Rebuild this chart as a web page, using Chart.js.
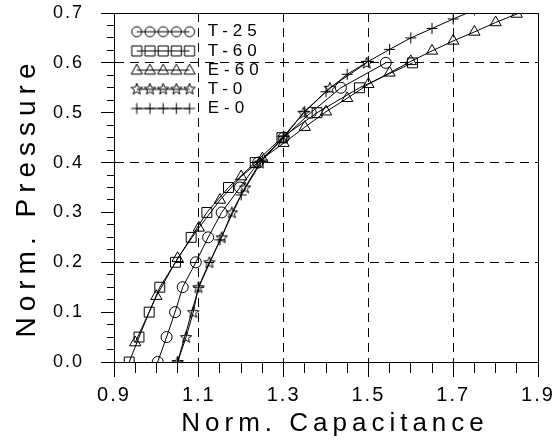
<!DOCTYPE html>
<html>
<head>
<meta charset="utf-8">
<script src="https://cdn.jsdelivr.net/npm/chart.js@4.4.0/dist/chart.umd.min.js"></script>
<style>
  body { margin: 0; background: #fff; }
  canvas { display: block; }
</style>
</head>
<body>
<canvas id="chart" width="555" height="440"></canvas>
<script>
// series
const seriesNames = ["T-25", "T-60", "E-60", "T-0", "E-0"];
const pressureT = [0.00, 0.05, 0.10, 0.15, 0.20, 0.25, 0.30, 0.35, 0.40, 0.45, 0.50, 0.55, 0.60];
const capT25 = [1.003, 1.024, 1.044, 1.062, 1.093, 1.122, 1.154, 1.197, 1.240, 1.300, 1.364, 1.435, 1.541];
const capT60 = [0.936, 0.959, 0.983, 1.008, 1.045, 1.082, 1.119, 1.170, 1.233, 1.296, 1.379, 1.479, 1.604];
const capT0 = [1.050, 1.070, 1.087, 1.099, 1.125, 1.154, 1.178, 1.209, 1.244, 1.300, 1.347, 1.409, 1.496];
const capE60 = [0.95, 1.00, 1.05, 1.10, 1.15, 1.20, 1.25, 1.30, 1.35, 1.40, 1.45, 1.50, 1.55, 1.60, 1.65, 1.70, 1.75, 1.80, 1.85];
const pressureE60 = [0.039, 0.132, 0.208, 0.269, 0.325, 0.372, 0.408, 0.439, 0.471, 0.502, 0.529, 0.557, 0.580, 0.603, 0.624, 0.644, 0.662, 0.681, 0.698];
const capE0 = [1.05, 1.10, 1.15, 1.20, 1.25, 1.30, 1.35, 1.40, 1.45, 1.50, 1.55, 1.60, 1.65, 1.70, 1.75];
const pressureE0 = [0.000, 0.150, 0.245, 0.335, 0.405, 0.453, 0.502, 0.542, 0.577, 0.603, 0.627, 0.650, 0.669, 0.688, 0.706];
const markerStyles = ["circle", "rect", "triangle", "star", "cross"];

const FONT = "'Liberation Sans', Arial, sans-serif";

function pairs(xs, ys) {
  return xs.map((x, i) => ({ x: x, y: ys[i] }));
}

// hollow marker shapes, used for the star points and the legend icons
function drawMark(c, style, x, y) {
  c.beginPath();
  if (style === "circle") {
    c.arc(x, y, 5, 0, Math.PI * 2);
  } else if (style === "rect") {
    c.rect(x - 5, y - 5, 10, 10);
  } else if (style === "triangle") {
    c.moveTo(x, y - 6);
    c.lineTo(x + 5.5, y + 4);
    c.lineTo(x - 5.5, y + 4);
    c.closePath();
  } else if (style === "cross") {
    c.moveTo(x - 5.5, y); c.lineTo(x + 5.5, y);
    c.moveTo(x, y - 5.5); c.lineTo(x, y + 5.5);
  } else if (style === "star") {
    for (let k = 0; k < 10; k++) {
      const r = k % 2 === 0 ? 6 : 2.5;
      const a = -Math.PI / 2 + k * Math.PI / 5;
      const px = x + r * Math.cos(a), py = y + r * Math.sin(a);
      if (k === 0) c.moveTo(px, py); else c.lineTo(px, py);
    }
    c.closePath();
  }
  c.stroke();
}

const starIcon = document.createElement("canvas");
starIcon.width = 14; starIcon.height = 14;
(function () {
  const c = starIcon.getContext("2d");
  c.strokeStyle = "#000"; c.lineWidth = 1;
  drawMark(c, "star", 7, 7.5);
})();

const legendIcons = markerStyles.map(style => {
  const cv = document.createElement("canvas");
  cv.width = 92; cv.height = 16;
  const c = cv.getContext("2d");
  c.strokeStyle = "#000"; c.lineWidth = 1;
  const xs = [25, 38.2, 51.4, 64.6, 77.8];
  c.beginPath(); c.moveTo(xs[0], 8); c.lineTo(xs[4], 8); c.stroke();
  xs.forEach(x => drawMark(c, style, x, 8));
  return cv;
});

// letter spacing (and a small nudge) for one drawing method of a scale
function wrapSpacing(obj, name, sp, dx, dy) {
  if (!obj || obj["_sp_" + name]) return;
  const orig = obj[name];
  obj[name] = function () {
    const ctx = this.ctx;
    const old = ctx.letterSpacing;
    ctx.save();
    ctx.translate(dx, dy);
    ctx.letterSpacing = sp;
    orig.apply(this, arguments);
    ctx.restore();
    ctx.letterSpacing = old;
  };
  obj["_sp_" + name] = true;
}

const spacingPlugin = {
  id: "spacing",
  beforeLayout(chart) { chart.ctx.letterSpacing = "2px"; },
  beforeDraw(chart) {
    chart.ctx.letterSpacing = "2px";
    wrapSpacing(chart.scales.x, "drawTitle", "5px", 9, 0);
    wrapSpacing(chart.scales.y, "drawTitle", "6px", 0, 10);
  }
};

// key in the upper left corner of the plot: five markers and the series name
const keyPlugin = {
  id: "seriesKey",
  afterDraw(chart) {
    const ctx = chart.ctx;
    const area = chart.chartArea;
    ctx.save();
    ctx.letterSpacing = "5px";
    ctx.font = "17px " + FONT;
    ctx.fillStyle = "#000";
    ctx.textBaseline = "middle";
    ctx.textAlign = "left";
    chart.data.datasets.forEach((ds, i) => {
      const y = area.top + 18.7 + i * 19.2;
      ctx.drawImage(legendIcons[i], area.left - 2.3, y - 8);
      ctx.fillText(ds.label, area.left + 93.7, y);
    });
    ctx.restore();
  }
};

const lineBase = {
  borderColor: "#000",
  borderWidth: 1,
  backgroundColor: "rgba(0,0,0,0)",
  pointBorderColor: "#000",
  pointBackgroundColor: "rgba(0,0,0,0)",
  pointBorderWidth: 1,
  tension: 0,
  showLine: true
};

new Chart(document.getElementById("chart"), {
  type: "scatter",
  data: {
    datasets: [
      Object.assign({}, lineBase, { label: seriesNames[0], data: pairs(capT25, pressureT), pointStyle: "circle", pointRadius: 5.5 }),
      Object.assign({}, lineBase, { label: seriesNames[1], data: pairs(capT60, pressureT), pointStyle: "rect", pointRadius: 7 }),
      Object.assign({}, lineBase, { label: seriesNames[2], data: pairs(capE60, pressureE60), pointStyle: "triangle", pointRadius: 6.5 }),
      Object.assign({}, lineBase, { label: seriesNames[3], data: pairs(capT0, pressureT), pointStyle: starIcon, pointRadius: 6 }),
      Object.assign({}, lineBase, { label: seriesNames[4], data: pairs(capE0, pressureE0), pointStyle: "cross", pointRadius: 5.5 })
    ]
  },
  options: {
    responsive: false,
    animation: false,
    layout: { padding: { left: 0, top: 13, right: 17, bottom: 0 } },
    plugins: {
      tooltip: { enabled: false },
      legend: { display: false }
    },
    scales: {
      x: {
        type: "linear",
        position: "bottom",
        min: 0.9,
        max: 1.9,
        afterFit(s) { s.height = 78; s.paddingLeft = 0; s.paddingRight = 0; },
        ticks: {
          stepSize: 0.05,
          autoSkip: false,
          maxRotation: 0,
          padding: 6,
          color: "#000",
          font: { family: FONT, size: 20 },
          callback: (v, i) => (i % 4 === 0 ? v.toFixed(1) : "")
        },
        grid: {
          color: c => (c.index % 4 === 0 && c.index > 0 && c.index < 20 ? "#000" : "rgba(0,0,0,0)"),
          lineWidth: 1,
          tickLength: 15,
          tickColor: "#000",
          tickBorderDash: c => (c.index % 4 === 0 ? [] : [10, 100])
        },
        border: { color: "#000", width: 1, dash: [9, 6] },
        title: {
          display: true,
          text: "Norm. Capacitance",
          color: "#000",
          font: { family: FONT, size: 26 },
          padding: { top: 0, bottom: 1 }
        }
      },
      y: {
        type: "linear",
        position: "left",
        min: 0,
        max: 0.7,
        afterFit(s) { s.width = 114; s.paddingTop = 0; s.paddingBottom = 0; },
        ticks: {
          stepSize: 0.025,
          autoSkip: false,
          padding: 17,
          color: "#000",
          font: { family: FONT, size: 18 },
          callback: (v, i) => (i % 4 === 0 ? v.toFixed(1) : "")
        },
        grid: {
          color: c => (c.index % 8 === 0 && c.index > 0 && c.index < 28 ? "#000" : "rgba(0,0,0,0)"),
          lineWidth: 1,
          tickLength: 13,
          tickColor: "#000",
          tickBorderDash: c => (c.index % 4 === 0 ? [] : [0, 6, 7, 100])
        },
        border: { color: "#000", width: 1, dash: [9, 6] },
        title: {
          display: true,
          text: "Norm. Pressure",
          color: "#000",
          font: { family: FONT, size: 28 },
          padding: { top: 10, bottom: 0 }
        }
      },
      x2: {
        type: "linear",
        position: "top",
        min: 0.9,
        max: 1.9,
        afterFit(s) { s.height = 0; s.paddingLeft = 0; s.paddingRight = 0; },
        ticks: { display: false },
        grid: { drawOnChartArea: false, drawTicks: false },
        border: { color: "#000", width: 1 }
      },
      y2: {
        type: "linear",
        position: "right",
        min: 0,
        max: 0.7,
        afterFit(s) { s.width = 0; s.paddingTop = 0; s.paddingBottom = 0; },
        ticks: { display: false },
        grid: { drawOnChartArea: false, drawTicks: false },
        border: { color: "#000", width: 1 }
      }
    }
  },
  plugins: [spacingPlugin, keyPlugin]
});
</script>
</body>
</html>
